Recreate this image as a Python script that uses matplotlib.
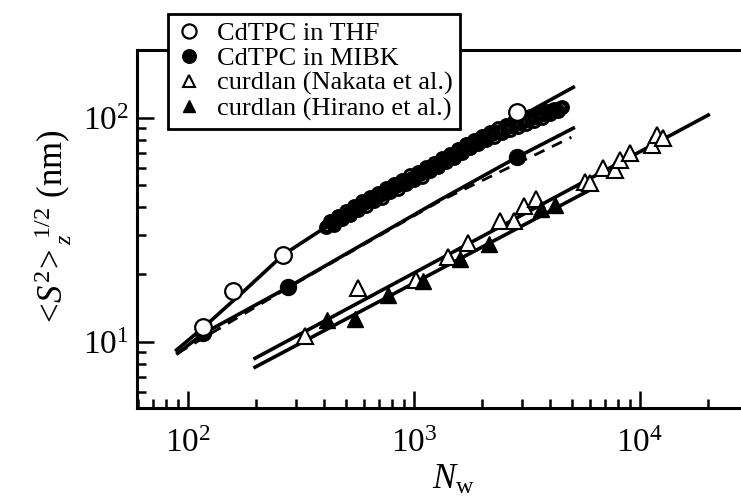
import numpy as np
import matplotlib.pyplot as plt
from matplotlib.ticker import LogLocator, NullFormatter

plt.rcParams['font.family'] = ['Liberation Serif', 'DejaVu Serif']
plt.rcParams['mathtext.fontset'] = 'custom'
plt.rcParams['mathtext.rm'] = 'Liberation Serif'
plt.rcParams['mathtext.it'] = 'Liberation Serif:italic'
plt.rcParams['mathtext.bf'] = 'Liberation Serif:bold'

# CdTPC in THF, large open circles
thf_n = [117, 158, 264, 2860]
thf_s = [11.6, 16.9, 24.5, 106]

# CdTPC in THF, dense small open circles (outer edge of the band)
cloud_n = [408, 425, 443, 461, 480, 500, 521, 543, 565, 589,
           613, 639, 665, 693, 722, 752, 783, 816, 850, 885,
           922, 960, 1000, 1041, 1085, 1130, 1177, 1226, 1277, 1330,
           1386, 1443, 1503, 1566, 1631, 1699, 1770, 1844, 1920, 2000,
           2083, 2170, 2260, 2354, 2452, 2554, 2660, 2771, 2886, 3006,
           3131, 3261, 3396, 3538, 3685, 3838, 3998, 4164, 4337, 4518]
cloud_s = [32.6, 34.8, 33.4, 36.6, 35.2, 38.6, 36.8, 40.3, 38.8, 42.5,
           40.5, 44.4, 42.4, 46.4, 44.1, 48.6, 46.6, 50.6, 48.2, 53.0,
           50.5, 55.5, 52.7, 57.6, 54.6, 60.3, 57.7, 62.8, 60.1, 66.0,
           63.3, 69.2, 66.3, 72.8, 69.7, 76.5, 73.1, 80.0, 76.4, 83.4,
           79.4, 86.8, 82.6, 89.8, 85.2, 93.2, 88.4, 96.4, 91.4, 99.2,
           94.3, 102.0, 97.2, 104.6, 100.3, 106.9, 104.1, 109.5, 107.6, 112.0]

# same band, middle row
cloud2_n = [416, 434, 452, 470, 490, 510, 532, 554, 577, 601,
            626, 652, 679, 707, 737, 767, 799, 833, 867, 903,
            941, 980, 1020, 1063, 1107, 1153, 1201, 1251, 1303, 1358,
            1414, 1473, 1534, 1598, 1665, 1734, 1807, 1882, 1960, 2041,
            2126, 2215, 2307, 2403, 2503, 2607, 2715, 2828, 2946, 3068,
            3196, 3328, 3467, 3611, 3761, 3918, 4080, 4250, 4427]
cloud2_s = [33.1, 34.0, 35.0, 35.8, 36.8, 37.7, 38.5, 39.5, 40.6, 41.5,
            42.5, 43.4, 44.4, 45.3, 46.4, 47.6, 48.6, 49.5, 50.6, 51.8,
            52.8, 53.9, 55.1, 56.2, 57.5, 59.0, 60.4, 61.6, 63.1, 64.7,
            66.3, 67.8, 69.6, 71.2, 72.9, 74.8, 76.5, 78.1, 79.8, 81.4,
            83.1, 84.8, 86.3, 87.7, 89.3, 90.9, 92.3, 93.8, 95.2, 96.7,
            98.2, 99.7, 101.3, 102.9, 104.5, 106.4, 108.0, 109.4, 111.1]

# CdTPC in MIBK, filled circles
mibk_n = [117, 276, 2860]
mibk_s = [11.0, 17.5, 66.8]

# curdlan (Nakata et al.), open triangles
nak_n = [330, 567, 1020, 1419, 1738, 2403, 2772, 3069, 3467, 5716,
         6020, 6885, 7745, 8170, 9036, 11270, 11850, 12680]
nak_s = [10.6, 17.4, 18.9, 24.0, 27.6, 34.5, 34.5, 40.4, 43.6, 51.8,
         51.2, 59.6, 58.6, 64.9, 69.6, 75.7, 84.0, 81.2]

# curdlan (Hirano et al.), filled triangles
hir_n = [411, 548, 769, 1099, 1600, 2154, 3648, 4206]
hir_s = [12.5, 12.7, 16.2, 18.7, 23.4, 27.4, 39.3, 40.9]

# theoretical curves
thf_fit_n = [89, 117, 175, 264, 408, 708, 991, 1400, 1958, 2740, 5070]
thf_fit_s = [9.2, 11.6, 16.7, 24.5, 32.6, 46.3, 54.5, 66.3, 79.8, 97.4, 137]
mibk_fit_n = [90, 117, 276, 1300, 2860, 5070]
mibk_fit_s = [8.9, 10.9, 17.5, 43.0, 66.8, 90.0]
mibk_dash_n = [90, 276, 1300, 4970]
mibk_dash_s = [8.9, 17.4, 42.5, 82.0]
nak_fit_n = [198, 20050]
nak_fit_s = [8.45, 103]
hir_fit_n = [198, 6010]
hir_fit_s = [7.71, 47.7]

fig = plt.figure(figsize=(7.41, 4.98), dpi=100)
ax = fig.add_axes([137/741, 90/498, (770-137)/741, 358/498])
ax.set_xscale('log')
ax.set_yscale('log')

lw = 2.6
ax.plot(thf_fit_n, thf_fit_s, '-', color='k', lw=lw, zorder=2)
ax.plot(mibk_fit_n, mibk_fit_s, '-', color='k', lw=lw, zorder=2)
ax.plot(mibk_dash_n, mibk_dash_s, '--', color='k', lw=2.0, dashes=(4, 3), zorder=2)
ax.plot(nak_fit_n, nak_fit_s, '-', color='k', lw=lw, zorder=2)
ax.plot(hir_fit_n, hir_fit_s, '-', color='k', lw=lw, zorder=2)

# small circles drawn hollow so they merge into a dark band
ax.plot(cloud_n, cloud_s, 'o', ms=8.5, mfc='none', mec='k', mew=2.2, zorder=3)
ax.plot(cloud2_n, cloud2_s, 'o', ms=8.5, mfc='none', mec='k', mew=2.2, zorder=3)
h1, = ax.plot(thf_n, thf_s, 'o', ms=12, mfc='white', mec='k', mew=1.6, zorder=4,
              label='CdTPC in THF')
h2, = ax.plot(mibk_n, mibk_s, 'o', ms=11.5, mfc='k', mec='k', zorder=3,
              label='CdTPC in MIBK')
h3, = ax.plot(nak_n, nak_s, '^', ms=11, mfc='white', mec='k', mew=1.5, zorder=4,
              label='curdlan (Nakata et al.)')
h4, = ax.plot(hir_n, hir_s, '^', ms=11, mfc='k', mec='k', mew=1.0, zorder=4,
              label='curdlan (Hirano et al.)')

ax.set_xlim(59.5, 10 ** (2 + (770 - 188) / 226))
ax.set_ylim(5.07, 201)

ax.spines['right'].set_visible(False)
for s in ['left', 'bottom', 'top']:
    ax.spines[s].set_linewidth(2.2)

ax.xaxis.set_major_locator(LogLocator(base=10, numticks=10))
ax.xaxis.set_minor_locator(LogLocator(base=10, subs=np.arange(2, 10), numticks=10))
ax.yaxis.set_major_locator(LogLocator(base=10, numticks=10))
ax.yaxis.set_minor_locator(LogLocator(base=10, subs=np.arange(2, 10), numticks=10))
ax.xaxis.set_minor_formatter(NullFormatter())
ax.yaxis.set_minor_formatter(NullFormatter())
ax.tick_params(which='both', direction='in', top=False, right=False, width=1.8)
ax.tick_params(which='major', length=12, labelsize=24)
ax.tick_params(axis='x', which='major', pad=15)
ax.tick_params(axis='y', which='major', pad=6)
ax.tick_params(which='minor', length=6.5)

ax.set_xlabel(r'$N_\mathrm{w}$', fontsize=25, labelpad=3)
ax.set_ylabel(r'$<\!S^2\!>_z^{\ 1/2}$ (nm)', fontsize=25, labelpad=6)

leg = fig.legend(handles=[h1, h2, h3, h4], loc='upper left',
                 bbox_to_anchor=(168/741, 1 - 14/498), bbox_transform=fig.transFigure,
                 fontsize=19, frameon=True, fancybox=False, framealpha=1,
                 edgecolor='k', borderaxespad=0, borderpad=0.3,
                 labelspacing=0.05, handlelength=1.0, handletextpad=0.55,
                 markerscale=0.85)
leg.get_frame().set_linewidth(2.0)

fig.savefig('out.png', dpi=100)
